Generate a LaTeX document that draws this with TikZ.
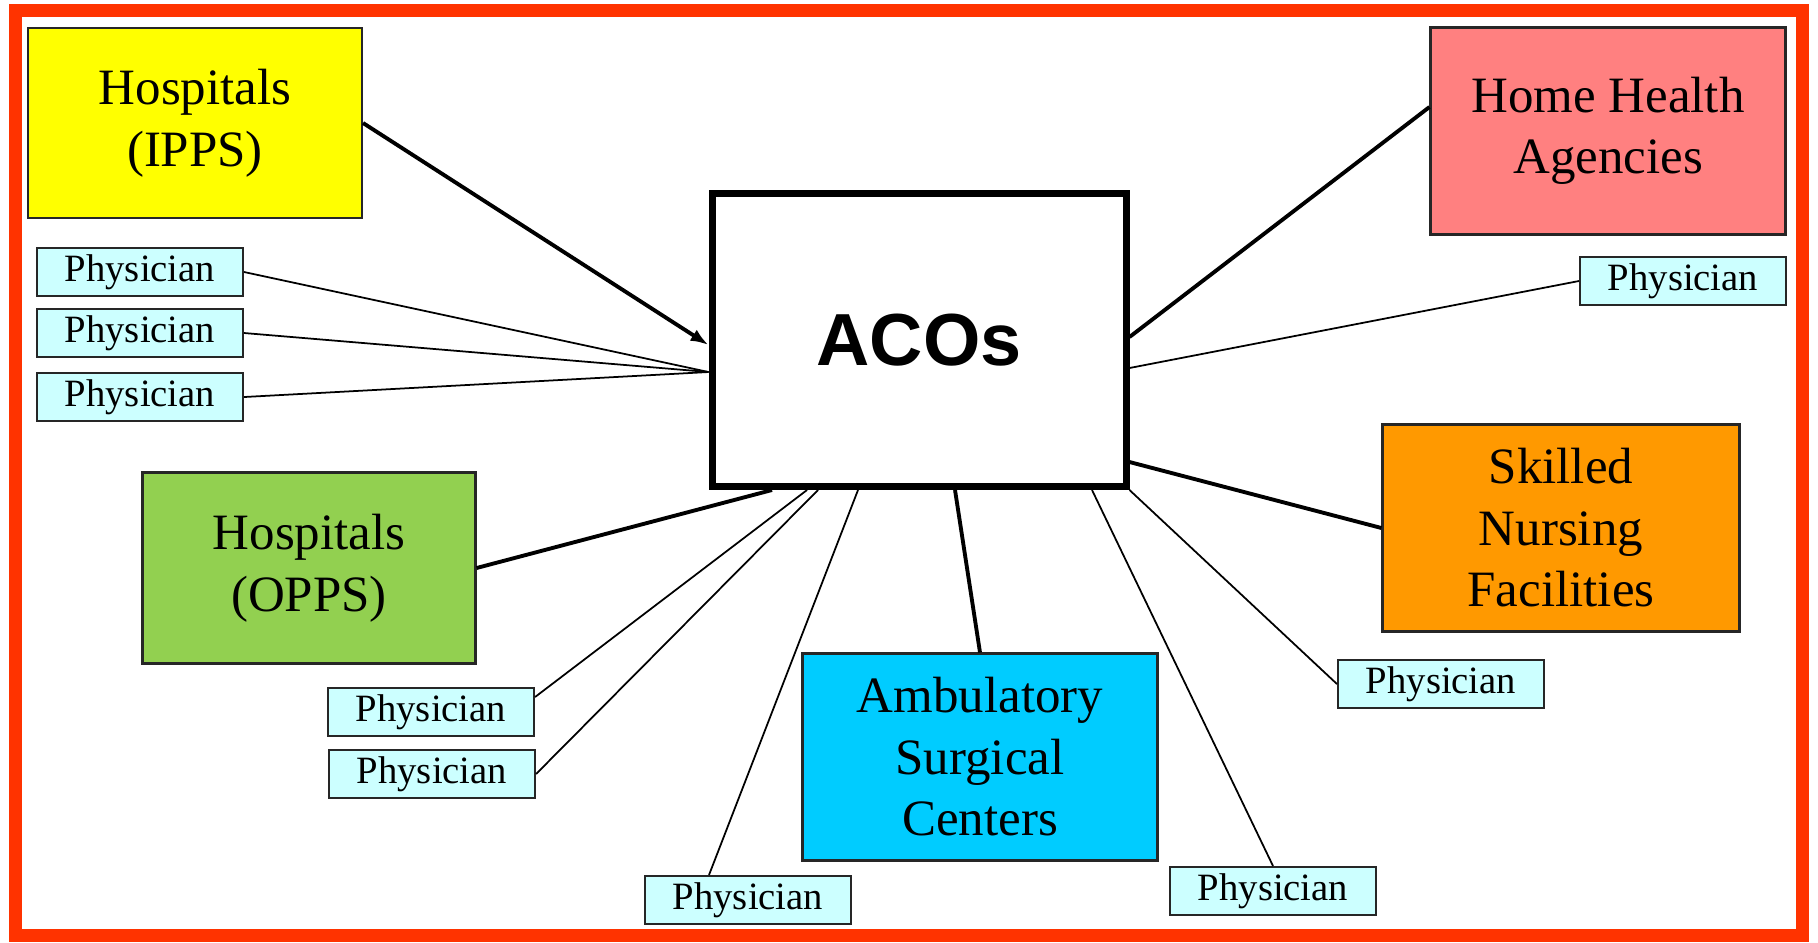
\documentclass[tikz,border=0pt]{standalone}
\usepackage{fontspec}
\setmainfont{Liberation Serif}
\newfontfamily\acofont{Liberation Sans}
\usepackage{tikz}
\usetikzlibrary{arrows.meta}

\definecolor{framered}{RGB}{255,51,0}
\definecolor{ippsyellow}{RGB}{255,255,0}
\definecolor{hhapink}{RGB}{255,128,128}
\definecolor{oppsgreen}{RGB}{146,208,80}
\definecolor{snforange}{RGB}{255,153,0}
\definecolor{asccyan}{RGB}{0,204,255}
\definecolor{physcyan}{RGB}{204,255,255}

\begin{document}
\begin{tikzpicture}[
  x=0.1mm, y=-0.1mm,
  >={Latex[length=1.8mm, width=1.3mm]},
  provider/.style={draw=black!85, line width=0.6pt, minimum width=33.4mm,
    minimum height=19mm, align=center, inner sep=2pt,
    font=\fontsize{14.5}{17.5}\selectfont},
  physbox/.style={draw=black!85, line width=0.6pt, fill=physcyan,
    minimum width=20.6mm, minimum height=4.8mm, inner sep=1pt,
    font=\fontsize{11}{13}\selectfont},
  acobox/.style={draw, line width=0.7mm, fill=white, minimum width=41.4mm,
    minimum height=29.3mm, font=\acofont\bfseries\fontsize{21}{25}\selectfont},
  thickline/.style={line width=1.1pt},
  thinline/.style={line width=0.5pt},
]
\useasboundingbox (0,0) rectangle (1818,942);

% outer frame
\draw[framered, line width=1.3mm] (15,10) rectangle (1802,935);

% ===== CENTRE =====
\node[acobox] (aco) at (919,340) {ACOs};

% ===== PROVIDERS =====
\node[provider, fill=ippsyellow] (ipps) at (195,123) {Hospitals\\(IPPS)};
\node[provider, fill=hhapink, minimum width=35.5mm, minimum height=20.7mm]
  (hha) at (1608,131) {Home Health\\Agencies};
\node[provider, fill=oppsgreen, minimum width=33.3mm, minimum height=19.1mm]
  (opps) at (309,568) {Hospitals\\(OPPS)};
\node[provider, fill=snforange, minimum width=35.7mm, minimum height=20.7mm]
  (snf) at (1561,528) {Skilled\\Nursing\\Facilities};
\node[provider, fill=asccyan, minimum width=35.5mm, minimum height=20.7mm]
  (asc) at (980,757) {Ambulatory\\Surgical\\Centers};

% ===== PHYSICIANS =====
\node[physbox] (physL1) at (140,272) {Physician};
\node[physbox] (physL2) at (140,333) {Physician};
\node[physbox] (physL3) at (140,397) {Physician};
\node[physbox] (physR) at (1683,281) {Physician};
\node[physbox] (physSNF) at (1441,684) {Physician};
\node[physbox] (physO1) at (431,712) {Physician};
\node[physbox] (physO2) at (432,774) {Physician};
\node[physbox] (physB) at (748,900) {Physician};
\node[physbox] (physBR) at (1273,891) {Physician};

% ===== CONNECTORS =====
\draw[thickline, ->] (ipps.east) -- ([yshift=-0.5mm]aco.west);
\draw[thinline] (physL1.east) -- ([yshift=-3.2mm]aco.west);
\draw[thinline] (physL2.east) -- ([yshift=-3.2mm]aco.west);
\draw[thinline] (physL3.east) -- ([yshift=-3.2mm]aco.west);

\draw[thickline] ([yshift=2.4mm]hha.west) -- ([yshift=0.3mm]aco.east);
\draw[thinline] (physR.west) -- ([yshift=-2.8mm]aco.east);
\draw[thickline] (snf.west) -- ([yshift=-12.2mm]aco.east);
\draw[thinline] (physSNF.west) -- (aco.south east);

\draw[thickline] (opps.east) -- ([xshift=-14.7mm]aco.south);
\draw[thinline] ([yshift=1.5mm]physO1.east) -- ([xshift=-11.2mm]aco.south);
\draw[thinline] (physO2.east) -- ([xshift=-10.1mm]aco.south);
\draw[thinline] ([xshift=-3.9mm]physB.north) -- ([xshift=-6.1mm]aco.south);
\draw[thickline] (asc.north) -- ([xshift=3.6mm]aco.south);
\draw[thinline] (physBR.north) -- ([xshift=17.3mm]aco.south);

\end{tikzpicture}
\end{document}
